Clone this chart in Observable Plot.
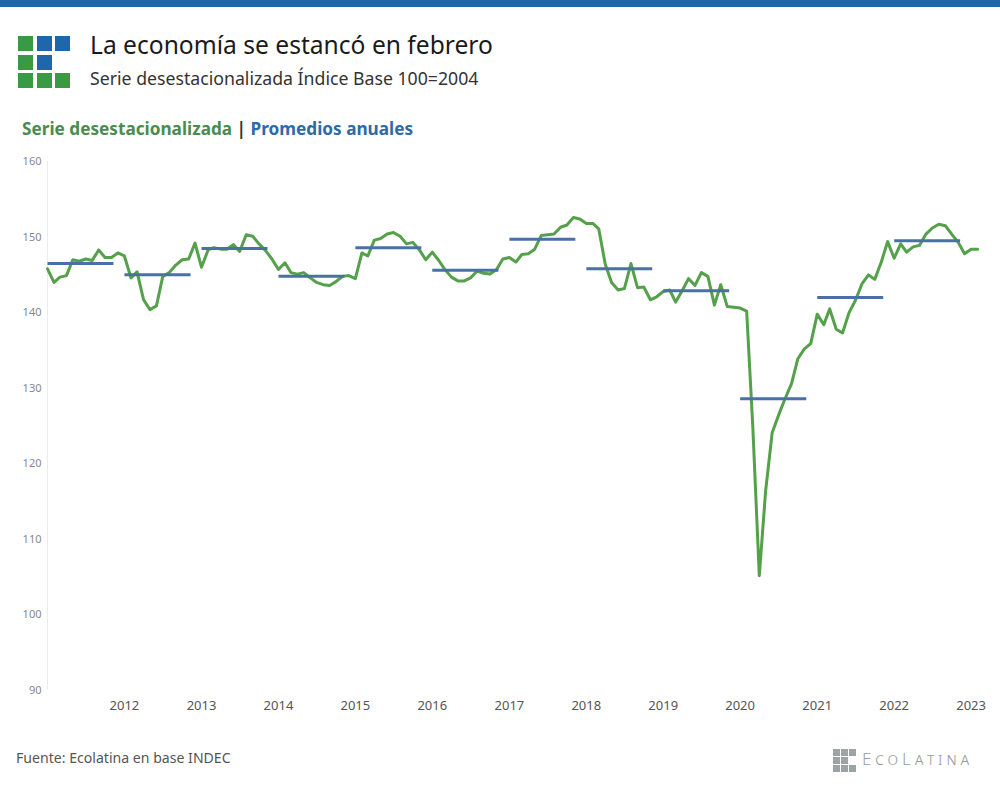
<!DOCTYPE html>
<html>
<head>
<meta charset="utf-8">
<script src="https://cdn.jsdelivr.net/npm/d3@7"></script>
<script src="https://cdn.jsdelivr.net/npm/@observablehq/plot@0.6"></script>
<style>
  html, body { margin: 0; padding: 0; background: #fff; }
  body { width: 1000px; height: 800px; position: relative; overflow: hidden; font-family: "Noto Sans", "Open Sans", sans-serif; }
  .topbar { position: absolute; left: 0; top: 0; width: 1000px; height: 7px; background: #1f67ab; }
  .sq { position: absolute; }
  .title { position: absolute; left: 90px; top: 28px; font-size: 24.6px; color: #1a1a1a; white-space: nowrap; }
  .subtitle { position: absolute; left: 90px; top: 66px; font-size: 17.7px; color: #333; white-space: nowrap; }
  .legend { position: absolute; left: 22px; top: 117px; font-size: 17.2px; font-weight: 700; white-space: nowrap; color: #333; }
  .legend .g { color: #4a8c4d; }
  .legend .b { color: #2e6aa6; }
  #chart { position: absolute; left: 0; top: 150px; }
  .source { position: absolute; left: 16px; top: 748px; font-size: 14.1px; color: #555; white-space: nowrap; }
  .brand { position: absolute; left: 862px; top: 747px; font-size: 17px; color: #9a9e9e; font-variant: small-caps; letter-spacing: 3.9px; font-weight: 300; white-space: nowrap; }
  g[aria-label="y-axis tick label"] { fill: #888; font-size: 11px; }
  g[aria-label="x-axis tick label"] { fill: #555; font-size: 13px; }
</style>
</head>
<body>
<div class="topbar"></div>
<div id="logo"></div>
<div class="title">La economía se estancó en febrero</div>
<div class="subtitle">Serie desestacionalizada Índice Base 100=2004</div>
<div class="legend"><span class="g">Serie desestacionalizada</span> | <span class="b">Promedios anuales</span></div>
<div id="chart"></div>
<div class="source">Fuente: Ecolatina en base INDEC</div>
<div id="brandlogo"></div>
<div class="brand">EcoLatina</div>
<script>
// ---- Data ----
const seriesStart = "2011-01-01";
const monthlyValues = [
  145.8, 144.0, 144.7, 144.9, 147.0, 146.8, 147.1, 146.9, 148.3, 147.3, 147.3, 147.9, // 2011
  147.5, 144.6, 145.4, 141.7, 140.4, 140.9, 144.8, 145.3, 146.3, 147.0, 147.1, 149.2, // 2012
  146.0, 148.3, 148.6, 148.4, 148.4, 149.0, 148.1, 150.3, 150.1, 149.1, 148.2, 147.1, // 2013
  145.7, 146.6, 145.3, 145.1, 145.3, 144.6, 144.0, 143.7, 143.6, 144.1, 144.8, 144.9, // 2014
  144.5, 147.9, 147.5, 149.6, 149.8, 150.4, 150.6, 150.1, 149.1, 149.3, 148.3, 147.0, // 2015
  148.0, 146.9, 145.7, 144.7, 144.2, 144.2, 144.6, 145.5, 145.2, 145.1, 145.7, 147.1, // 2016
  147.3, 146.7, 147.7, 147.8, 148.4, 150.2, 150.3, 150.4, 151.3, 151.6, 152.6, 152.4, // 2017
  151.8, 151.8, 151.1, 146.4, 144.0, 143.0, 143.2, 146.5, 143.3, 143.4, 141.7, 142.1, // 2018
  142.8, 143.0, 141.4, 142.9, 144.5, 143.6, 145.3, 144.8, 141.0, 143.7, 140.8, 140.7, // 2019
  140.6, 140.2, 125.0, 105.2, 116.4, 124.1, 126.4, 128.6, 130.6, 133.9, 135.2, 135.9, // 2020
  139.8, 138.4, 140.5, 137.8, 137.3, 140.0, 141.6, 143.8, 145.0, 144.4, 146.7, 149.4, // 2021
  147.2, 149.1, 148.0, 148.7, 148.9, 150.4, 151.2, 151.7, 151.5, 150.4, 149.3, 147.8, // 2022
  148.4, 148.4                                                                        // 2023
];
const annualYears = [2011, 2012, 2013, 2014, 2015, 2016, 2017, 2018, 2019, 2020, 2021, 2022];
const annualAverages = [146.5, 145.0, 148.5, 144.8, 148.6, 145.6, 149.7, 145.8, 142.9, 128.6, 142.0, 149.5];
const xTickYears = [2012, 2013, 2014, 2015, 2016, 2017, 2018, 2019, 2020, 2021, 2022, 2023];
const yTicks = [90, 100, 110, 120, 130, 140, 150, 160];

// ---- Logos (decoration) ----
const logoColors = [["#3a9a43", "#1f67ab", "#1f67ab"], ["#3a9a43", "#1f67ab", null], ["#3a9a43", "#3a9a43", "#3a9a43"]];
const logo = document.getElementById("logo");
logoColors.forEach((row, r) => row.forEach((c, col) => {
  if (!c) return;
  const d = document.createElement("div");
  d.className = "sq";
  Object.assign(d.style, { left: (18 + col * 18.5) + "px", top: (36 + r * 18.5) + "px", width: "15px", height: "15px", background: c });
  logo.appendChild(d);
}));
const brand = document.getElementById("brandlogo");
[[1,1,1],[1,1,0],[1,1,1]].forEach((row, r) => row.forEach((on, col) => {
  if (!on) return;
  const d = document.createElement("div");
  d.className = "sq";
  Object.assign(d.style, { left: (833 + col * 8.2) + "px", top: (749 + r * 8.2) + "px", width: "7px", height: "7px", background: "#9ea3a3" });
  brand.appendChild(d);
}));

// ---- Build tables ----
const t0 = new Date(seriesStart);
const series = monthlyValues.map((v, i) => ({ date: d3.utcMonth.offset(t0, i), value: v }));
const annual = annualYears.map((y, i) => ({
  start: new Date(Date.UTC(y, 0, 1)),
  end: new Date(Date.UTC(y, 10, 10)),
  value: annualAverages[i]
}));
const xEnd = d3.utcMonth.offset(series[series.length - 1].date, 1);

const chart = Plot.plot({
  width: 1000,
  height: 580,
  marginLeft: 47,
  marginRight: 17,
  marginTop: 11,
  marginBottom: 40,
  x: { type: "utc", domain: [t0, xEnd] },
  y: { domain: [90, 160] },
  style: { fontFamily: "'Noto Sans', 'Open Sans', sans-serif", background: "transparent" },
  marks: [
    Plot.ruleX([t0], { y1: yTicks[0], y2: yTicks[yTicks.length - 1], stroke: "#ececec", strokeWidth: 1 }),
    Plot.axisY({ ticks: yTicks, tickSize: 0, tickPadding: 6, label: null, tickFormat: d => String(d) }),
    Plot.axisX({ ticks: xTickYears.map(y => new Date(Date.UTC(y, 0, 1))), tickFormat: d3.utcFormat("%Y"), tickSize: 0, tickPadding: 10, label: null }),
    Plot.line(series, { x: "date", y: "value", stroke: "#55a04b", strokeWidth: 3, strokeLinejoin: "round" }),
    Plot.link(annual, { x1: "start", x2: "end", y1: "value", y2: "value", stroke: "#4a71a5", strokeWidth: 3 })
  ]
});
document.getElementById("chart").appendChild(chart);
</script>
</body>
</html>
